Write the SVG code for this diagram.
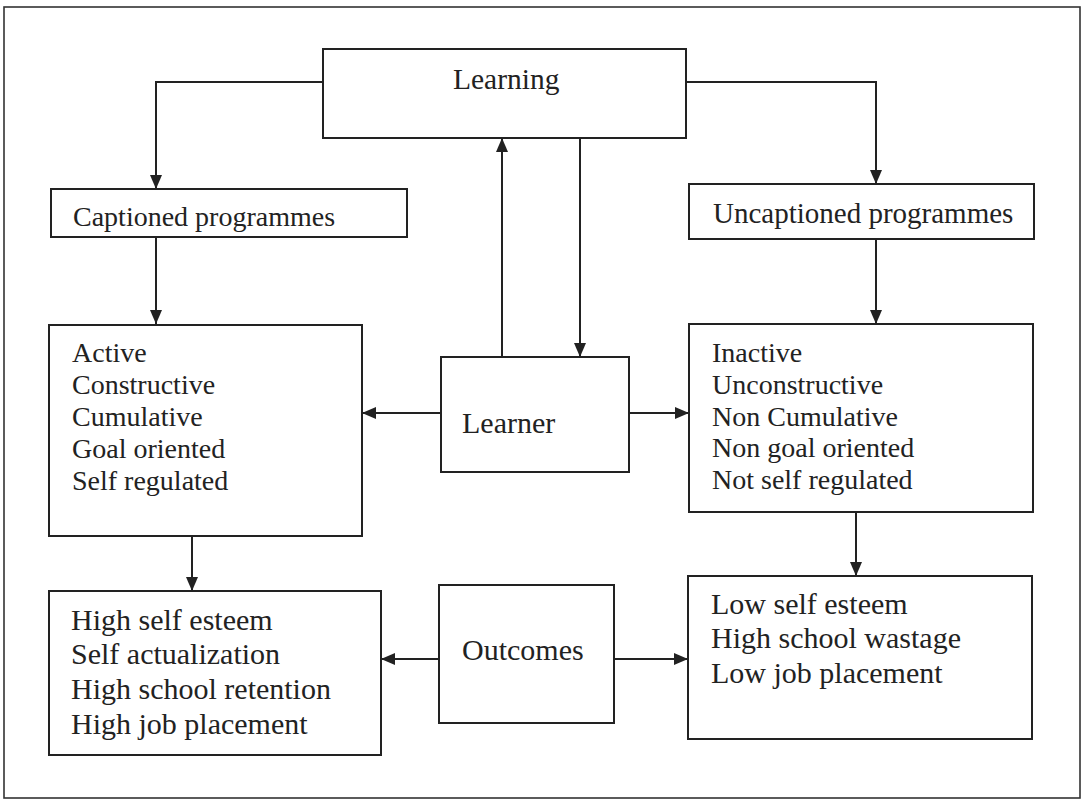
<svg xmlns="http://www.w3.org/2000/svg" width="1086" height="803" viewBox="0 0 1086 803">
<defs>
<style>
.box{fill:#fff;stroke:#222;stroke-width:2}
.frame{fill:none;stroke:#333;stroke-width:1.6}
.t{font-family:"Liberation Serif","Times New Roman",serif;fill:#222}
.c{fill:none;stroke:#222;stroke-width:2}
</style>
<marker id="ah" viewBox="0 0 14 12" refX="14" refY="6" markerWidth="14" markerHeight="12" markerUnits="userSpaceOnUse" orient="auto">
<path d="M0,0 L14,6 L0,12 Z" fill="#222"/>
</marker>
</defs>
<rect x="0" y="0" width="1086" height="803" fill="#fff"/>
<rect class="frame" x="4" y="7" width="1076" height="791"/>

<g id="connectors">
<path class="c" d="M323,82 H156 V189" marker-end="url(#ah)"/>
<path class="c" d="M686,82 H876 V184" marker-end="url(#ah)"/>
<path class="c" d="M156,237 V324" marker-end="url(#ah)"/>
<path class="c" d="M876,239 V324" marker-end="url(#ah)"/>
<path class="c" d="M502,357 V138" marker-end="url(#ah)"/>
<path class="c" d="M580,138 V357" marker-end="url(#ah)"/>
<path class="c" d="M441,413 H362" marker-end="url(#ah)"/>
<path class="c" d="M629,413 H689" marker-end="url(#ah)"/>
<path class="c" d="M192,536 V591" marker-end="url(#ah)"/>
<path class="c" d="M856,512 V576" marker-end="url(#ah)"/>
<path class="c" d="M439,659 H381" marker-end="url(#ah)"/>
<path class="c" d="M614,659 H688" marker-end="url(#ah)"/>
</g>

<g id="learning">
<rect class="box" x="323" y="49" width="363" height="89"/>
<text class="t" x="453" y="89" font-size="29.5">Learning</text>
</g>

<g id="captioned">
<rect class="box" x="51" y="189" width="356" height="48"/>
<text class="t" x="73" y="226" font-size="28">Captioned programmes</text>
</g>

<g id="uncaptioned">
<rect class="box" x="689" y="184" width="345" height="55"/>
<text class="t" x="713" y="223" font-size="29">Uncaptioned programmes</text>
</g>

<g id="active">
<rect class="box" x="49" y="325" width="313" height="211"/>
<text class="t" x="72" font-size="28"><tspan x="72" y="362">Active</tspan><tspan x="72" y="394">Constructive</tspan><tspan x="72" y="426">Cumulative</tspan><tspan x="72" y="458">Goal oriented</tspan><tspan x="72" y="490">Self regulated</tspan></text>
</g>

<g id="learner">
<rect class="box" x="441" y="357" width="188" height="115"/>
<text class="t" x="462" y="433" font-size="30">Learner</text>
</g>

<g id="inactive">
<rect class="box" x="689" y="324" width="344" height="188"/>
<text class="t" font-size="28"><tspan x="712" y="362">Inactive</tspan><tspan x="712" y="394">Unconstructive</tspan><tspan x="712" y="426">Non Cumulative</tspan><tspan x="712" y="457">Non goal oriented</tspan><tspan x="712" y="489">Not self regulated</tspan></text>
</g>

<g id="high">
<rect class="box" x="49" y="591" width="332" height="164"/>
<text class="t" font-size="30"><tspan x="71" y="630">High self esteem</tspan><tspan x="71" y="664">Self actualization</tspan><tspan x="71" y="699">High school retention</tspan><tspan x="71" y="734">High job placement</tspan></text>
</g>

<g id="outcomes">
<rect class="box" x="439" y="585" width="175" height="138"/>
<text class="t" x="462" y="660" font-size="30">Outcomes</text>
</g>

<g id="low">
<rect class="box" x="688" y="576" width="344" height="163"/>
<text class="t" font-size="30"><tspan x="711" y="614">Low self esteem</tspan><tspan x="711" y="648">High school wastage</tspan><tspan x="711" y="683">Low job placement</tspan></text>
</g>
</svg>
